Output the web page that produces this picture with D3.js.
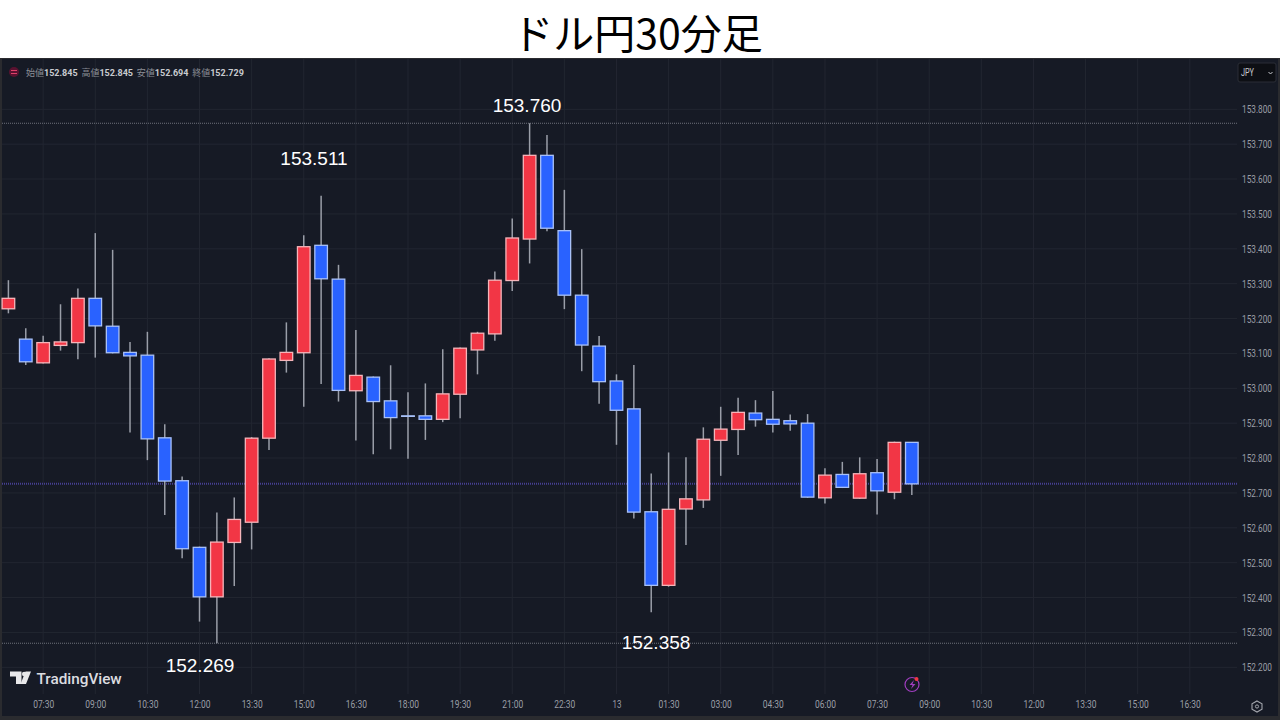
<!DOCTYPE html>
<html>
<head>
<meta charset="utf-8">
<script src="https://cdn.jsdelivr.net/npm/d3@7"></script>
<style>
  html, body { margin: 0; padding: 0; background: #fff; overflow: hidden; }
  svg { display: block; }
  .tick-label { font-family: Roboto, sans-serif; font-size: 10.8px; fill: #9b9ea6; }
  .domain { display: none; }
</style>
</head>
<body>
<svg id="chart" width="1280" height="720"></svg>
<script>
var titleText = 'ドル円30分足';

// 30 minute bars
var opens = [153.228, 153.141, 153.073, 153.123, 153.131, 153.258, 153.178, 153.103, 153.095, 152.858,
  152.735, 152.544, 152.402, 152.558, 152.616, 152.857, 153.080, 153.102, 153.410, 153.313,
  152.993, 153.032, 152.964, 152.921, 152.921, 152.911, 152.983, 153.110, 153.156, 153.309,
  153.428, 153.668, 153.452, 153.267, 153.121, 153.021, 152.941, 152.646, 152.435, 152.654,
  152.680, 152.851, 152.882, 152.929, 152.911, 152.907, 152.900, 152.686, 152.753, 152.685,
  152.758, 152.702, 152.845];
var highs = [153.310, 153.172, 153.151, 153.241, 153.286, 153.445, 153.397, 153.133, 153.162, 152.897,
  152.747, 152.546, 152.644, 152.687, 152.860, 153.086, 153.189, 153.439, 153.552, 153.354,
  153.167, 153.034, 153.066, 152.989, 153.014, 153.112, 153.117, 153.162, 153.335, 153.487,
  153.760, 153.726, 153.569, 153.399, 153.150, 153.040, 153.067, 152.756, 152.816, 152.802,
  152.888, 152.947, 152.973, 152.966, 152.992, 152.925, 152.926, 152.771, 152.789, 152.802,
  152.797, 152.847, 152.845];
var lows = [153.215, 153.067, 153.071, 153.108, 153.083, 153.088, 153.100, 152.873, 152.794, 152.637,
  152.513, 152.331, 152.269, 152.433, 152.538, 152.823, 153.045, 152.947, 153.012, 152.962,
  152.850, 152.811, 152.825, 152.798, 152.852, 152.903, 152.914, 153.040, 153.136, 153.279,
  153.358, 153.450, 153.227, 153.049, 152.956, 152.838, 152.627, 152.358, 152.431, 152.551,
  152.657, 152.749, 152.809, 152.890, 152.873, 152.878, 152.686, 152.670, 152.714, 152.683,
  152.638, 152.682, 152.694];
var closes = [153.258, 153.076, 153.131, 153.133, 153.258, 153.179, 153.102, 153.093, 152.855, 152.734,
  152.540, 152.402, 152.559, 152.624, 152.857, 153.084, 153.103, 153.406, 153.314, 152.994,
  153.037, 152.962, 152.916, 152.920, 152.911, 152.984, 153.115, 153.158, 153.310, 153.431,
  153.668, 153.459, 153.267, 153.124, 153.019, 152.937, 152.645, 152.435, 152.653, 152.683,
  152.854, 152.883, 152.931, 152.910, 152.897, 152.898, 152.688, 152.751, 152.716, 152.755,
  152.706, 152.845, 152.726];

var timeLabels = ['07:30', '09:00', '10:30', '12:00', '13:30', '15:00', '16:30', '18:00', '19:30', '21:00', '22:30',
  '13', '01:30', '03:00', '04:30', '06:00', '07:30', '09:00', '10:30', '12:00', '13:30', '15:00', '16:30'];
var priceTicks = [153.8, 153.7, 153.6, 153.5, 153.4, 153.3, 153.2, 153.1, 153.0, 152.9, 152.8, 152.7, 152.6, 152.5, 152.4, 152.3, 152.2];

var legendItems = [['始値', '152.845'], ['高値', '152.845'], ['安値', '152.694'], ['終値', '152.729']];
var noteLabels = ['153.760', '153.511', '152.358', '152.269'];
var dayHigh = 153.760, dayLow = 152.269, lastPrice = 152.726;

var svg = d3.select('#chart');
var bg = '#161a25', gridColor = '#222631';
var plotRight = 1237;

var x = d3.scaleLinear().domain([0, 68]).range([8.4, 1189.8]);
var y = d3.scaleLinear().domain([153.8, 152.2]).range([109.3, 667.3]);
var tickIndex = timeLabels.map(function(_, i) { return 2 + i * 3; });

// page + panel
svg.append('rect').attr('width', 1280).attr('height', 720).attr('fill', '#fff');
svg.append('rect').attr('x', 0).attr('y', 58).attr('width', 1280).attr('height', 662).attr('fill', '#2a2b2f');
svg.append('rect').attr('x', 2).attr('y', 59).attr('width', 1276).attr('height', 657).attr('fill', bg);

svg.append('text').attr('x', 637.5).attr('y', 49)
  .attr('text-anchor', 'middle')
  .attr('font-family', '"Noto Sans CJK JP", sans-serif')
  .attr('font-size', 41).attr('fill', '#000')
  .text(titleText);

// grid
var grid = svg.append('g').attr('stroke', gridColor).attr('stroke-width', 1);
priceTicks.forEach(function(p) {
  grid.append('line').attr('x1', 2).attr('x2', plotRight).attr('y1', y(p)).attr('y2', y(p));
});
tickIndex.forEach(function(i) {
  grid.append('line').attr('x1', x(i)).attr('x2', x(i)).attr('y1', 59).attr('y2', 694);
});

// axes
var yAxis = d3.axisRight(y).tickValues(priceTicks).tickSize(0).tickPadding(0).tickFormat(d3.format('.3f'));
var gy = svg.append('g').attr('transform', 'translate(1242,0)').call(yAxis);
gy.selectAll('text').attr('class', 'tick-label')
  .attr('textLength', 30).attr('lengthAdjust', 'spacingAndGlyphs');

var xAxis = d3.axisBottom(x).tickValues(tickIndex).tickSize(0).tickPadding(0)
  .tickFormat(function(d, i) { return timeLabels[i]; });
var gx = svg.append('g').attr('transform', 'translate(0,700.5)').call(xAxis);
gx.selectAll('text').attr('class', 'tick-label')
  .attr('textLength', function(d, i) { return timeLabels[i].length > 2 ? 21 : 9; })
  .attr('lengthAdjust', 'spacingAndGlyphs');

// hi/lo/last lines
svg.selectAll('.level').data([dayHigh, dayLow]).enter().append('line')
  .attr('x1', 2).attr('x2', plotRight)
  .attr('y1', y).attr('y2', y)
  .attr('stroke', '#6f727c').attr('stroke-dasharray', '1 1');
svg.append('line').attr('x1', 2).attr('x2', plotRight)
  .attr('y1', y(lastPrice)).attr('y2', y(lastPrice))
  .attr('stroke', '#463f92').attr('stroke-width', 2).attr('stroke-dasharray', '1 1');

// candles
var bars = opens.map(function(o, i) {
  return { i: i, o: o, h: highs[i], l: lows[i], c: closes[i] };
});
var barW = 12.6;
var candle = svg.append('g').selectAll('g').data(bars).enter().append('g');
candle.append('line')
  .attr('x1', function(d) { return x(d.i); }).attr('x2', function(d) { return x(d.i); })
  .attr('y1', function(d) { return y(d.h); }).attr('y2', function(d) { return y(d.l); })
  .attr('stroke', '#9a9ea8').attr('stroke-width', 1.5);
candle.append('rect')
  .attr('x', function(d) { return x(d.i) - barW / 2; })
  .attr('width', barW)
  .attr('y', function(d) { return y(Math.max(d.o, d.c)); })
  .attr('height', function(d) { return Math.max(0.5, Math.abs(y(d.o) - y(d.c))); })
  .attr('fill', function(d) { return d.c >= d.o ? '#f23645' : '#2962ff'; })
  .attr('stroke', function(d) { return d.c >= d.o ? '#f5b5ba' : '#a9c1f7'; })
  .attr('stroke-width', 1.3);

// price notes
var noteX = d3.scaleOrdinal().domain(noteLabels).range([527, 314, 656, 200]);
var noteY = d3.scaleOrdinal().domain(noteLabels).range([112, 165, 649, 672]);
svg.selectAll('.note').data(noteLabels).enter().append('text')
  .attr('x', noteX)
  .attr('y', noteY)
  .attr('text-anchor', 'middle')
  .attr('font-family', '"Liberation Sans", Arial, sans-serif')
  .attr('font-size', 19).attr('fill', '#fff')
  .text(function(d) { return d; });

// legend row
svg.append('circle').attr('cx', 14).attr('cy', 72).attr('r', 5).attr('fill', '#5a1230');
svg.append('path').attr('d', 'M11 70.5h6M11 73.5h6').attr('stroke', '#e0406a').attr('stroke-width', 1);
var lx = 26;
legendItems.forEach(function(it) {
  var t = svg.append('text').attr('x', lx).attr('y', 76)
    .attr('font-family', '"Noto Sans CJK JP", sans-serif').attr('font-size', 9);
  t.append('tspan').attr('fill', '#8b8e96').text(it[0]);
  t.append('tspan').attr('fill', '#c8cacf').attr('font-weight', 'bold').attr('font-family', 'Roboto, sans-serif').text(it[1]);
  lx += 55.4;
});

// TradingView logo
svg.append('path').attr('d', 'M10 671.5h11.5v12.5h-5.5v-7.5h-6z').attr('fill', '#e8e8ea');
svg.append('circle').attr('cx', 24.2).attr('cy', 674).attr('r', 2.3).attr('fill', '#e8e8ea');
svg.append('path').attr('d', 'M25.5 671.5h5.5l-5 12.5h-5.5z').attr('fill', '#e8e8ea');
svg.append('text').attr('x', 36.5).attr('y', 683.5)
  .attr('font-family', 'Roboto, sans-serif').attr('font-weight', 500)
  .attr('font-size', 15.3).attr('fill', '#dcdde0').text('TradingView');

// JPY button
svg.append('rect').attr('x', 1238).attr('y', 63).attr('width', 38).attr('height', 19).attr('rx', 2)
  .attr('fill', '#0d0f14').attr('stroke', '#2a2d36');
svg.append('text').attr('x', 1241).attr('y', 76).attr('class', 'tick-label').style('fill', '#c8cacf')
  .attr('textLength', 13).attr('lengthAdjust', 'spacingAndGlyphs').text('JPY');
svg.append('path').attr('d', 'M1268.5 72l2 2 2-2').attr('fill', 'none').attr('stroke', '#c8cacf');

// lightning icon
svg.append('circle').attr('cx', 912).attr('cy', 684.5).attr('r', 7).attr('fill', 'none').attr('stroke', '#a03ec0').attr('stroke-width', 1.2);
svg.append('path').attr('d', 'M914 680l-4.5 5h3l-1.5 4 4.5-5h-3z').attr('fill', '#a03ec0');
svg.append('circle').attr('cx', 916.5).attr('cy', 679).attr('r', 2).attr('fill', '#f23645');

// settings icon
svg.append('path').attr('d', 'M1257 701l5 2.8v5.4l-5 2.8-5-2.8v-5.4z').attr('fill', 'none').attr('stroke', '#a4a7ae').attr('stroke-width', 1.1);
svg.append('circle').attr('cx', 1257).attr('cy', 706.5).attr('r', 1.6).attr('fill', 'none').attr('stroke', '#a4a7ae');
</script>
</body>
</html>
